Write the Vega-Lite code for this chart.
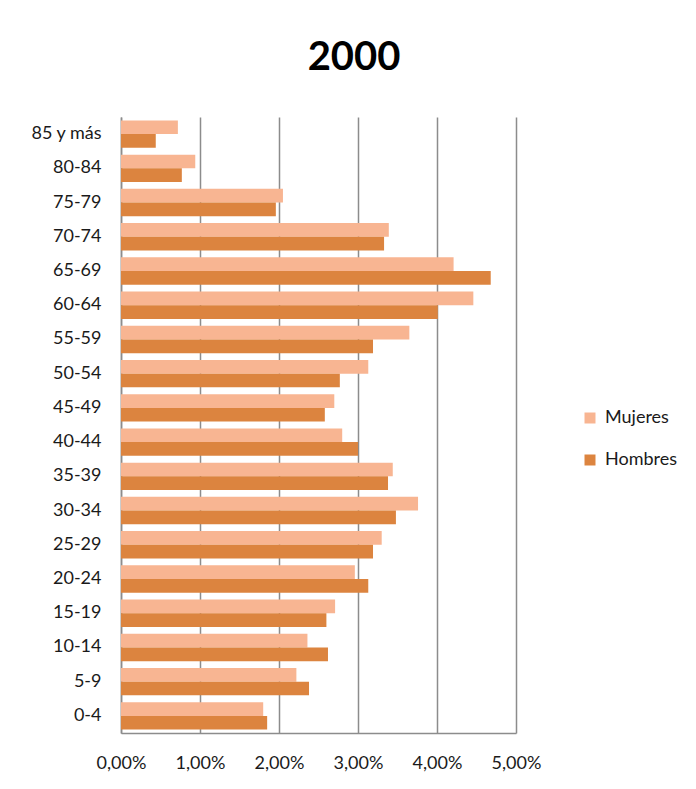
{
  "$schema": "https://vega.github.io/schema/vega-lite/v6.json",
  "autosize": {"type": "none"},
  "padding": {"left": 121, "top": 117, "right": 180, "bottom": 56},
  "width": 395,
  "height": 616,
  "background": "white",
  "title": {
    "text": "2000",
    "fontSize": 40,
    "fontWeight": "bold",
    "font": "Lato",
    "color": "#000000",
    "anchor": "middle",
    "frame": "bounds",
    "baseline": "alphabetic",
    "offset": 7
  },
  "config": {
    "locale": {
      "number": {"decimal": ",", "thousands": ".", "grouping": [3], "currency": ["", " €"]}
    },
    "view": {"stroke": null},
    "font": "Lato"
  },
  "data": {
    "values": [
      {"edad": "85 y más", "sexo": "Mujeres", "pct": 0.0072},
      {"edad": "85 y más", "sexo": "Hombres", "pct": 0.0044},
      {"edad": "80-84", "sexo": "Mujeres", "pct": 0.0094},
      {"edad": "80-84", "sexo": "Hombres", "pct": 0.0077},
      {"edad": "75-79", "sexo": "Mujeres", "pct": 0.0205},
      {"edad": "75-79", "sexo": "Hombres", "pct": 0.0196},
      {"edad": "70-74", "sexo": "Mujeres", "pct": 0.0339},
      {"edad": "70-74", "sexo": "Hombres", "pct": 0.0333},
      {"edad": "65-69", "sexo": "Mujeres", "pct": 0.0421},
      {"edad": "65-69", "sexo": "Hombres", "pct": 0.0468},
      {"edad": "60-64", "sexo": "Mujeres", "pct": 0.0446},
      {"edad": "60-64", "sexo": "Hombres", "pct": 0.0401},
      {"edad": "55-59", "sexo": "Mujeres", "pct": 0.0365},
      {"edad": "55-59", "sexo": "Hombres", "pct": 0.0319},
      {"edad": "50-54", "sexo": "Mujeres", "pct": 0.0313},
      {"edad": "50-54", "sexo": "Hombres", "pct": 0.0277},
      {"edad": "45-49", "sexo": "Mujeres", "pct": 0.0270},
      {"edad": "45-49", "sexo": "Hombres", "pct": 0.0258},
      {"edad": "40-44", "sexo": "Mujeres", "pct": 0.0280},
      {"edad": "40-44", "sexo": "Hombres", "pct": 0.0300},
      {"edad": "35-39", "sexo": "Mujeres", "pct": 0.0344},
      {"edad": "35-39", "sexo": "Hombres", "pct": 0.0338},
      {"edad": "30-34", "sexo": "Mujeres", "pct": 0.0376},
      {"edad": "30-34", "sexo": "Hombres", "pct": 0.0348},
      {"edad": "25-29", "sexo": "Mujeres", "pct": 0.0330},
      {"edad": "25-29", "sexo": "Hombres", "pct": 0.0319},
      {"edad": "20-24", "sexo": "Mujeres", "pct": 0.0296},
      {"edad": "20-24", "sexo": "Hombres", "pct": 0.0313},
      {"edad": "15-19", "sexo": "Mujeres", "pct": 0.0271},
      {"edad": "15-19", "sexo": "Hombres", "pct": 0.0260},
      {"edad": "10-14", "sexo": "Mujeres", "pct": 0.0236},
      {"edad": "10-14", "sexo": "Hombres", "pct": 0.0262},
      {"edad": "5-9", "sexo": "Mujeres", "pct": 0.0222},
      {"edad": "5-9", "sexo": "Hombres", "pct": 0.0238},
      {"edad": "0-4", "sexo": "Mujeres", "pct": 0.0180},
      {"edad": "0-4", "sexo": "Hombres", "pct": 0.0185}
    ]
  },
  "mark": {"type": "bar"},
  "encoding": {
    "y": {
      "field": "edad",
      "type": "nominal",
      "sort": null,
      "scale": {"paddingInner": 0.2, "paddingOuter": 0.1},
      "axis": {
        "title": null,
        "ticks": false,
        "labelPadding": 20,
        "labelFontSize": 18,
        "labelColor": "#1a1a1a",
        "domainColor": "#8c8c8c",
        "domainWidth": 1.5,
        "grid": false
      }
    },
    "yOffset": {"field": "sexo", "type": "nominal", "sort": ["Mujeres", "Hombres"]},
    "x": {
      "field": "pct",
      "type": "quantitative",
      "scale": {"domain": [0, 0.05], "nice": false},
      "axis": {
        "title": null,
        "values": [0, 0.01, 0.02, 0.03, 0.04, 0.05],
        "format": ".2%",
        "ticks": false,
        "labelFlush": false,
        "labelPadding": 21,
        "labelFontSize": 18,
        "labelColor": "#1a1a1a",
        "domainColor": "#8c8c8c",
        "domainWidth": 1.5,
        "grid": true,
        "gridColor": "#8c8c8c",
        "gridWidth": 1.5
      }
    },
    "color": {
      "field": "sexo",
      "type": "nominal",
      "sort": ["Mujeres", "Hombres"],
      "scale": {"domain": ["Mujeres", "Hombres"], "range": ["#F8B592", "#DC843F"]},
      "legend": {
        "title": null,
        "orient": "none",
        "legendX": 460,
        "legendY": 292,
        "padding": 0,
        "symbolType": "square",
        "symbolSize": 121,
        "symbolStrokeWidth": 0,
        "labelFontSize": 18,
        "labelColor": "#1a1a1a",
        "labelOffset": 6,
        "rowPadding": 24
      }
    }
  }
}
